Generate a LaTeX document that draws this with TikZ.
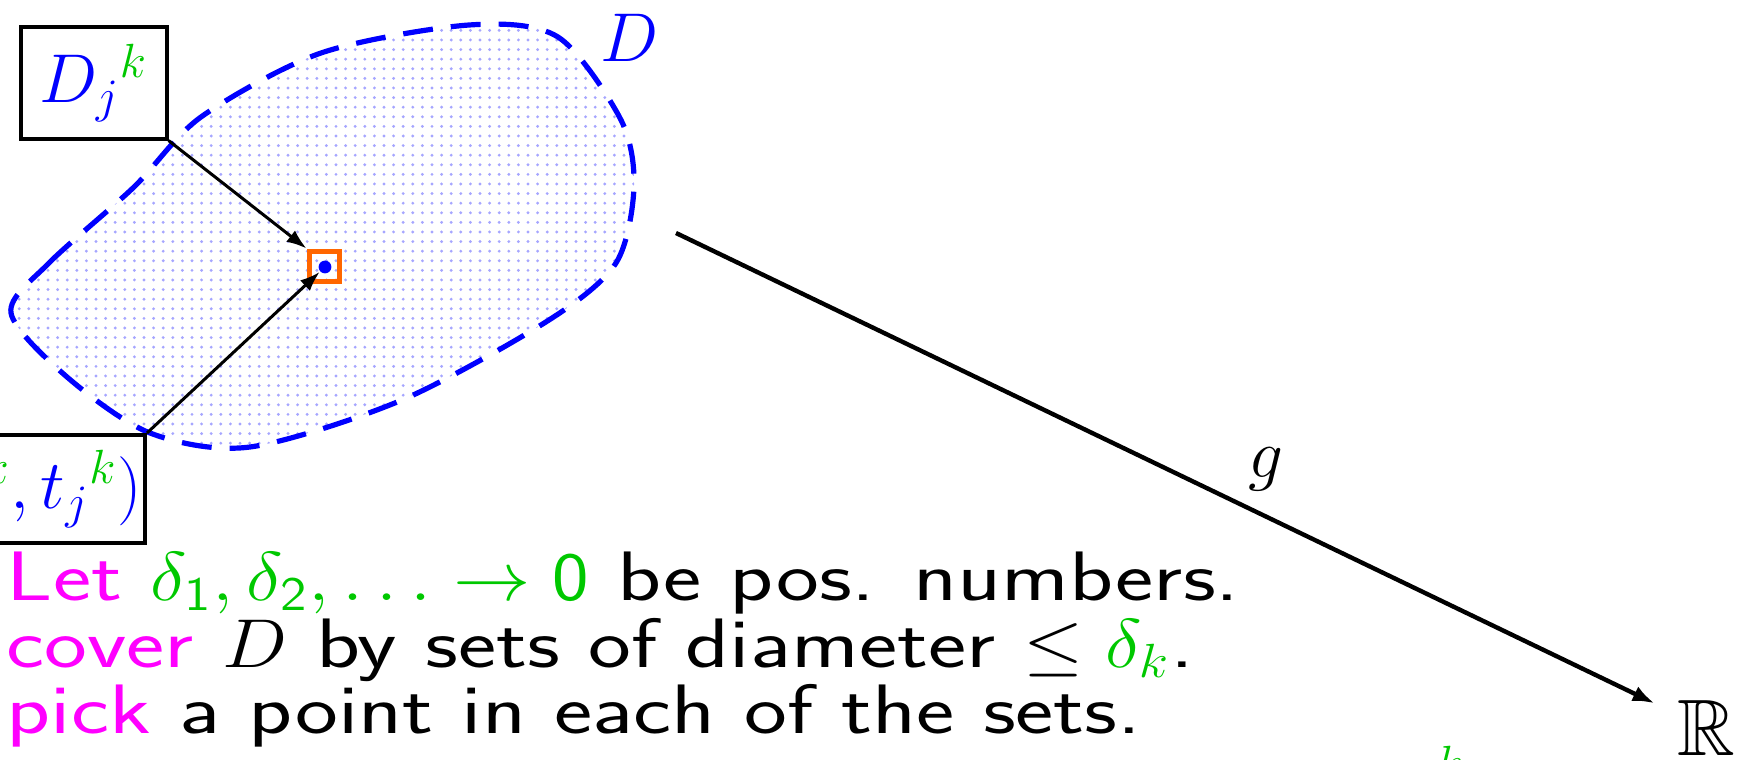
\documentclass[tikz,border=0pt]{standalone}
\usepackage{amsmath}
\usepackage{amssymb}
\usetikzlibrary{arrows.meta,patterns.meta}
\definecolor{coverBlue}{RGB}{0,0,255}
\definecolor{coverGreen}{RGB}{0,200,0}
\definecolor{coverMagenta}{RGB}{255,0,255}
\definecolor{coverOrange}{RGB}{255,102,0}
\newcommand{\kw}[1]{\textcolor{coverMagenta}{#1}}
\newcommand{\gr}[1]{\textcolor{coverGreen}{#1}}
\newcommand{\widen}[1]{\scalebox{1.3}[1]{#1}}
\newcommand{\mwiden}[1]{\scalebox{1.12}[1]{#1}}
\tikzset{
  region/.style={draw=coverBlue, line width=1.3pt,
    dash pattern=on 7.5pt off 4.5pt,
    pattern={Dots[radius=0.4pt, distance=2.4pt]}, pattern color=coverBlue!35},
  set box/.style={draw, line width=0.9pt, inner sep=0pt,
    font=\fontsize{18}{21}\selectfont, text=coverBlue},
  pick box/.style={draw=coverOrange, line width=1.25pt, minimum size=7.5pt,
    inner sep=0pt},
  pick dot/.style={circle, fill=coverBlue, minimum size=3.2pt, inner sep=0pt},
  pointer/.style={-{Latex[length=5pt, width=3.6pt]}, line width=0.75pt},
  map/.style={-{Latex[length=5.5pt, width=4pt]}, line width=1.1pt},
  big label/.style={inner sep=0pt, font=\fontsize{19}{22}\selectfont},
  text line/.style={anchor=base west, inner sep=0pt,
    font=\fontsize{17.5}{20}\selectfont\sffamily}
}
\begin{document}
\begin{tikzpicture}[x=0.25pt, y=-0.25pt]
  \useasboundingbox (0,0) rectangle (1739,760);
  \clip (0,0) rectangle (1739,760);
  \draw[region] plot[smooth cycle] coordinates {(11,313) (49,263) (134,187)
    (201,117) (321,53) (469,25) (558,37) (621,120) (634,187) (616,263)
    (549,320) (402,400) (250,447) (150,433) (67,377)};
  \node[big label, text=coverBlue] (Dlabel) at (630,38) {$D$};
  \node[pick box] (mark) at (324,266) {};
  \node[pick dot] (pt) at (325,267) {};
  \node[set box, anchor=north west, minimum width=36.5pt, minimum height=28pt]
    (setD) at (19,25) {$D_j{}^{\gr{k}}$};
  \node[set box, anchor=north east, minimum height=27pt, inner xsep=0.8pt]
    (setpt) at (147,433) {$(s_j{}^{\gr{k}},t_j{}^{\gr{k}})$};
  \draw[pointer] (setD.south east) -- (mark.north west);
  \draw[pointer] (setpt.north east) -- (pt);
  \coordinate (gstart) at (676,233);
  \node[big label, font=\fontsize{20}{24}\selectfont] (reals) at (1706,728)
    {$\mathbb{R}$};
  \draw[map, shorten >=6pt] (gstart) -- node[big label, pos=0.59, above=6pt]
    {$g$} (reals);
  \node[text line] (let) at (6,600)
    {\widen{\kw{Let}\ }\mwiden{\gr{$\delta_{\mathsf{1}},\delta_{\mathsf{2}},
    \ldots\to\mathsf{0}$}}\widen{\ be pos. numbers.}};
  \node[text line] (cover) at (6,667)
    {\widen{\kw{cover}\ }\mwiden{$D$}\widen{\ by sets of diameter\ }%
    \mwiden{$\le\textcolor{coverGreen}{\delta_k}$}\widen{.}};
  \node[text line] (pick) at (6,733)
    {\widen{\kw{pick} a point in each of the sets.}};
  \node[anchor=base west, inner sep=0pt, text=coverGreen,
    font=\fontsize{12.25}{14}\selectfont] (kcut) at (1436,779) {$k$};
\end{tikzpicture}
\end{document}
